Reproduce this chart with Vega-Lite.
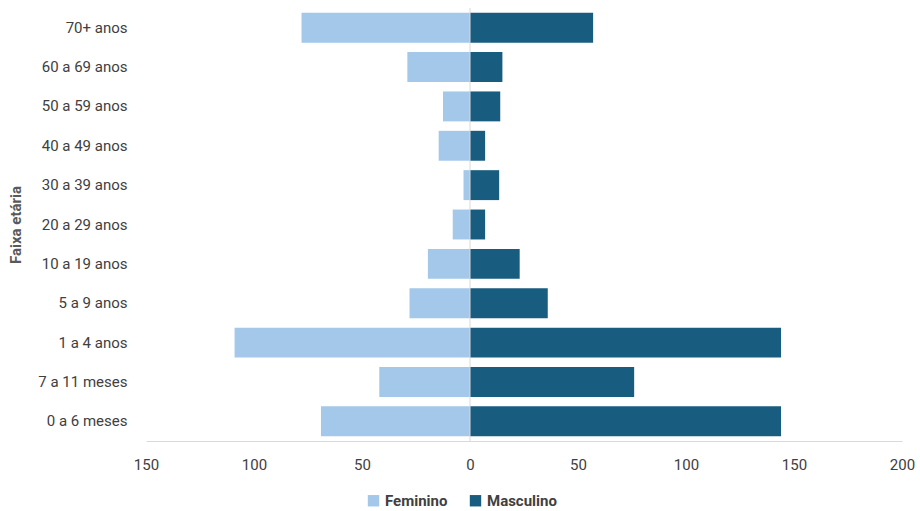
{
  "$schema": "https://vega.github.io/schema/vega-lite/v6.json",
  "width": 756,
  "height": 433,
  "autosize": {"type": "none"},
  "padding": {"left": 146, "top": 8, "right": 18, "bottom": 70},
  "background": "white",
  "config": {
    "view": {"stroke": null},
    "font": "Roboto",
    "axis": {"labelFont": "Roboto", "titleFont": "Roboto"},
    "legend": {"labelFont": "Roboto"}
  },
  "data": {
    "values": [
      {"faixa": "70+ anos", "sexo": "Feminino", "valor": -78},
      {"faixa": "60 a 69 anos", "sexo": "Feminino", "valor": -29},
      {"faixa": "50 a 59 anos", "sexo": "Feminino", "valor": -12.5},
      {"faixa": "40 a 49 anos", "sexo": "Feminino", "valor": -14.5},
      {"faixa": "30 a 39 anos", "sexo": "Feminino", "valor": -3},
      {"faixa": "20 a 29 anos", "sexo": "Feminino", "valor": -8},
      {"faixa": "10 a 19 anos", "sexo": "Feminino", "valor": -19.5},
      {"faixa": "5 a 9 anos", "sexo": "Feminino", "valor": -28},
      {"faixa": "1 a 4 anos", "sexo": "Feminino", "valor": -109},
      {"faixa": "7 a 11 meses", "sexo": "Feminino", "valor": -42},
      {"faixa": "0 a 6 meses", "sexo": "Feminino", "valor": -69},
      {"faixa": "70+ anos", "sexo": "Masculino", "valor": 57},
      {"faixa": "60 a 69 anos", "sexo": "Masculino", "valor": 15},
      {"faixa": "50 a 59 anos", "sexo": "Masculino", "valor": 14},
      {"faixa": "40 a 49 anos", "sexo": "Masculino", "valor": 7},
      {"faixa": "30 a 39 anos", "sexo": "Masculino", "valor": 13.5},
      {"faixa": "20 a 29 anos", "sexo": "Masculino", "valor": 7},
      {"faixa": "10 a 19 anos", "sexo": "Masculino", "valor": 23},
      {"faixa": "5 a 9 anos", "sexo": "Masculino", "valor": 36},
      {"faixa": "1 a 4 anos", "sexo": "Masculino", "valor": 144},
      {"faixa": "7 a 11 meses", "sexo": "Masculino", "valor": 76},
      {"faixa": "0 a 6 meses", "sexo": "Masculino", "valor": 144}
    ]
  },
  "layer": [
    {
      "mark": {"type": "bar"},
      "encoding": {
        "y": {
          "field": "faixa",
          "type": "nominal",
          "sort": ["70+ anos", "60 a 69 anos", "50 a 59 anos", "40 a 49 anos", "30 a 39 anos", "20 a 29 anos", "10 a 19 anos", "5 a 9 anos", "1 a 4 anos", "7 a 11 meses", "0 a 6 meses"],
          "scale": {"paddingInner": 0.24, "paddingOuter": 0.12},
          "axis": {
            "title": "Faixa etária",
            "titleFontSize": 15,
            "titleFontWeight": "bold",
            "titleColor": "#595959",
            "titlePadding": 14,
            "labelFontSize": 15,
            "labelColor": "#404040",
            "labelPadding": 19,
            "ticks": false,
            "domain": false
          }
        },
        "x": {
          "field": "valor",
          "type": "quantitative",
          "scale": {"domain": [-150, 200], "nice": false},
          "axis": {
            "title": null,
            "values": [-150, -100, -50, 0, 50, 100, 150, 200],
            "labelExpr": "format(abs(datum.value), 'd')",
            "labelFontSize": 15,
            "labelColor": "#404040",
            "labelPadding": 16,
            "ticks": false,
            "grid": false,
            "domainColor": "#d9d9d9",
            "labelFlush": false
          }
        },
        "color": {
          "field": "sexo",
          "type": "nominal",
          "scale": {"domain": ["Feminino", "Masculino"], "range": ["#A3C8EA", "#185D80"]},
          "legend": {
            "title": null,
            "orient": "none",
            "direction": "horizontal",
            "legendX": 220,
            "legendY": 485,
            "symbolType": "square",
            "symbolSize": 130,
            "symbolStrokeWidth": 0,
            "labelFontSize": 15,
            "labelFontWeight": "bold",
            "labelColor": "#404040",
            "columnPadding": 20,
            "labelOffset": 4
          }
        }
      }
    },
    {
      "data": {"values": [{"x": 0}]},
      "mark": {"type": "rule", "color": "#d9d9d9", "strokeWidth": 1},
      "encoding": {"x": {"field": "x", "type": "quantitative"}}
    }
  ]
}
